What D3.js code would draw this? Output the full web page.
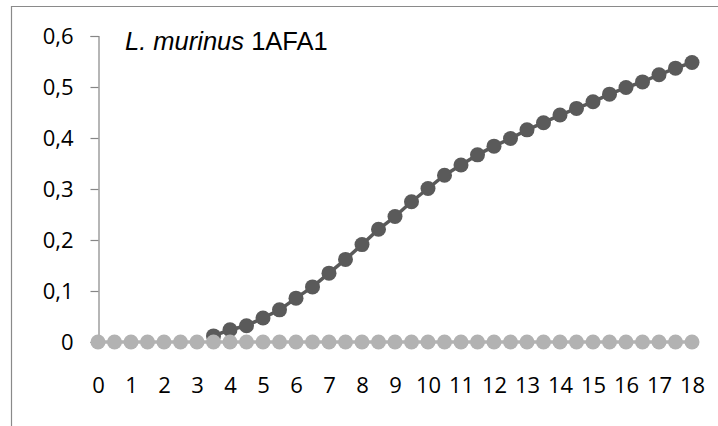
<!DOCTYPE html>
<html>
<head>
<meta charset="utf-8">
<script src="https://cdn.jsdelivr.net/npm/d3@7"></script>
<style>
  html, body { margin: 0; padding: 0; background: #fff; }
  svg { display: block; }
</style>
</head>
<body>
<svg id="chart" width="718" height="426"></svg>
<script>
// ---- data ----
const timeAll = [0,0.5,1,1.5,2,2.5,3,3.5,4,4.5,5,5.5,6,6.5,7,7.5,8,8.5,9,9.5,10,10.5,11,11.5,12,12.5,13,13.5,14,14.5,15,15.5,16,16.5,17,17.5,18];
const controlValues = [0,0,0,0,0,0,0,0,0,0,0,0,0,0,0,0,0,0,0,0,0,0,0,0,0,0,0,0,0,0,0,0,0,0,0,0,0];
const timeStrain = [3.5,4,4.5,5,5.5,6,6.5,7,7.5,8,8.5,9,9.5,10,10.5,11,11.5,12,12.5,13,13.5,14,14.5,15,15.5,16,16.5,17,17.5,18];
const strainValues = [0.012,0.024,0.032,0.047,0.063,0.086,0.108,0.135,0.162,0.191,0.221,0.246,0.275,0.301,0.327,0.347,0.367,0.384,0.399,0.416,0.430,0.445,0.458,0.471,0.486,0.499,0.510,0.524,0.537,0.548];
const xTicks = [0,1,2,3,4,5,6,7,8,9,10,11,12,13,14,15,16,17,18];
const yTicks = [0,0.1,0.2,0.3,0.4,0.5,0.6];
const titleItalic = "L. murinus";
const titleRest = " 1AFA1";

// ---- drawing ----
const svg = d3.select("#chart");
const x = d3.scaleLinear().domain([0, 18]).range([98, 692]);
const y = d3.scaleLinear().domain([0, 0.6]).range([342, 36]);

// frame
svg.append("line").attr("x1", 11).attr("x2", 718).attr("y1", 6.5).attr("y2", 6.5)
  .attr("stroke", "#8a8a8a").attr("stroke-width", 1.2);
svg.append("line").attr("x1", 11.5).attr("x2", 11.5).attr("y1", 6).attr("y2", 426)
  .attr("stroke", "#8a8a8a").attr("stroke-width", 1.2);

const tickFont = "'Open Sans', sans-serif";

// y axis
const yAxis = svg.append("g").attr("transform", "translate(98.5,0)")
  .call(d3.axisLeft(y).tickValues(yTicks).tickSize(8).tickPadding(17)
    .tickFormat(d => d3.format(".1~f")(d).replace(".", ",")));
yAxis.select(".domain").attr("stroke", "#868686").attr("stroke-width", 1.2);
yAxis.selectAll(".tick line").attr("stroke", "#868686").attr("stroke-width", 1.2);
yAxis.selectAll("text").attr("font-family", tickFont).attr("font-size", 22).attr("fill", "#000");

// x axis
const xAxis = svg.append("g").attr("transform", "translate(0,342)")
  .call(d3.axisBottom(x).tickValues(xTicks).tickSize(0).tickPadding(35));
xAxis.select(".domain").attr("stroke", "#868686").attr("stroke-width", 1.2);
xAxis.selectAll("text").attr("font-family", tickFont).attr("font-size", 22).attr("fill", "#000");

// series: strain (dark), drawn first
const strain = timeStrain.map((t, i) => ({t, v: strainValues[i]}));
const control = timeAll.map((t, i) => ({t, v: controlValues[i]}));
const line = d3.line().x(d => x(d.t)).y(d => y(d.v));

function drawSeries(data, color) {
  svg.append("path").datum(data).attr("d", line)
    .attr("fill", "none").attr("stroke", color).attr("stroke-width", 3.5).attr("stroke-linejoin", "round");
  svg.append("g").selectAll("circle").data(data).join("circle")
    .attr("cx", d => x(d.t)).attr("cy", d => y(d.v)).attr("r", 7.5)
    .attr("fill", color);
}
drawSeries(strain, "#5a5a5a");
drawSeries(control, "#b2b2b2");

// title
const title = svg.append("text").attr("x", 125).attr("y", 50)
  .attr("font-family", "'Liberation Sans', Arial, sans-serif").attr("font-size", 25.5).attr("fill", "#000");
title.append("tspan").attr("font-style", "italic").text(titleItalic);
title.append("tspan").text(titleRest);
</script>
</body>
</html>
